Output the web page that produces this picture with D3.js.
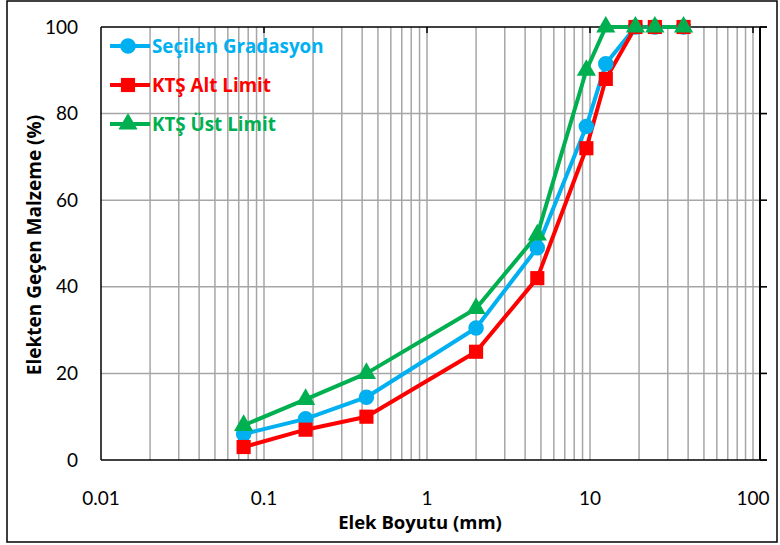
<!DOCTYPE html>
<html>
<head>
<meta charset="utf-8">
<script src="https://cdn.jsdelivr.net/npm/d3@7"></script>
<style>
  body { margin: 0; background: #fff; }
  svg { display: block; font-family: Lato, "Open Sans", sans-serif; }
  .bold { font-family: "Open Sans", Lato, sans-serif; font-weight: bold; }
</style>
</head>
<body>
<div id="chart"></div>
<script>
// sieve sizes (mm) and percent passing
let sieves = [0.075, 0.18, 0.425, 2, 4.75, 9.5, 12.5, 19, 25, 37.5];
let secilen = [6, 9.5, 14.5, 30.5, 49, 77, 91.5, 100, 100, 100];
let altLimit = [3, 7, 10, 25, 42, 72, 88, 100, 100, 100];
let ustLimit = [8, 14, 20, 35, 52, 90, 100, 100, 100, 100];
let seriesNames = ["Seçilen Gradasyon", "KTŞ Alt Limit", "KTŞ Üst Limit"];
let xTicks = [0.01, 0.1, 1, 10, 100];
let yTicks = [0, 20, 40, 60, 80, 100];

let W = 780, H = 545;
let margin = {top: 27, right: 27, bottom: 85, left: 101},
    width = 753 - margin.left,
    height = 460 - margin.top;

let svg = d3.select("#chart").append("svg")
    .attr("width", W)
    .attr("height", H);

// outer border
svg.append("rect")
    .attr("x", 7).attr("y", 1)
    .attr("width", W - 10).attr("height", H - 4)
    .attr("fill", "none").attr("stroke", "#000").attr("stroke-width", 1.5);

let g = svg.append("g")
    .attr("transform", "translate(" + margin.left + "," + margin.top + ")");

let x = d3.scaleLog().domain([0.01, 100]).range([0, width]);
let y = d3.scaleLinear().domain([0, 100]).range([height, 0]);
let xEnd = width + 7;   // secondary axis position
let gridEnd = width + 14;

// vertical grid (minor + major)
let minor = [];
[0.01, 0.1, 1, 10].forEach(d => { for (let k = 1; k <= 9; k++) minor.push(d * k); });
minor.push(100);
g.selectAll(".vgrid").data(minor.filter(d => d > 0.01)).enter()
    .append("line")
    .attr("x1", d => x(d)).attr("x2", d => x(d))
    .attr("y1", 0).attr("y2", height)
    .attr("stroke", "#A6A6A6").attr("stroke-width", 1.5);

// horizontal grid
g.selectAll(".hgrid").data(yTicks.filter(d => d > 0 && d < 100)).enter()
    .append("line")
    .attr("x1", 0).attr("x2", gridEnd)
    .attr("y1", d => y(d)).attr("y2", d => y(d))
    .attr("stroke", "#A6A6A6").attr("stroke-width", 1.5);

// axes
let axisColor = "#000";
g.append("line").attr("x1", 0).attr("x2", gridEnd).attr("y1", height).attr("y2", height)
    .attr("stroke", axisColor).attr("stroke-width", 1.5);
g.append("line").attr("x1", 0).attr("x2", gridEnd).attr("y1", 0).attr("y2", 0)
    .attr("stroke", axisColor).attr("stroke-width", 1.5);
g.append("line").attr("x1", 0).attr("x2", 0).attr("y1", 0).attr("y2", height)
    .attr("stroke", axisColor).attr("stroke-width", 1.5);
g.append("line").attr("x1", xEnd).attr("x2", xEnd).attr("y1", 0).attr("y2", height)
    .attr("stroke", axisColor).attr("stroke-width", 2);

// top decade ticks
g.selectAll(".ttick").data(xTicks.slice(1)).enter()
    .append("line")
    .attr("x1", d => x(d)).attr("x2", d => x(d))
    .attr("y1", 0).attr("y2", 6)
    .attr("stroke", axisColor).attr("stroke-width", 1.5);

// right ticks
g.selectAll(".rtick").data(yTicks).enter()
    .append("line")
    .attr("x1", xEnd).attr("x2", gridEnd)
    .attr("y1", d => y(d)).attr("y2", d => y(d))
    .attr("stroke", axisColor).attr("stroke-width", 1.5);

// tick labels
g.selectAll(".ylab").data(yTicks).enter()
    .append("text")
    .attr("x", -23).attr("y", d => y(d))
    .attr("dy", "0.35em")
    .attr("text-anchor", "end")
    .style("font-size", "19px")
    .text(d => d);

g.selectAll(".xlab").data(xTicks).enter()
    .append("text")
    .attr("x", d => x(d)).attr("y", height + 38)
    .attr("dy", "0.35em")
    .attr("text-anchor", "middle")
    .style("font-size", "19px")
    .text(d => d);

// axis titles
svg.append("text")
    .attr("class", "bold")
    .attr("x", 420).attr("y", 529)
    .attr("text-anchor", "middle")
    .style("font-size", "18.5px")
    .text("Elek Boyutu (mm)");

svg.append("text")
    .attr("class", "bold")
    .attr("transform", "translate(41,245) rotate(-90)")
    .attr("text-anchor", "middle")
    .style("font-size", "19px")
    .text("Elekten Geçen Malzeme (%)");

// series
let series = [
    {name: seriesNames[0], values: secilen, color: "#00B0F0", shape: d3.symbolCircle, size: 190},
    {name: seriesNames[1], values: altLimit, color: "#FF0000", shape: d3.symbolSquare, size: 200},
    {name: seriesNames[2], values: ustLimit, color: "#00B050", shape: d3.symbolTriangle, size: 160}
];

let line = d3.line()
    .x(d => x(d[0]))
    .y(d => y(d[1]));

series.forEach(s => {
    let pts = sieves.map((d, i) => [d, s.values[i]]);
    g.append("path")
        .datum(pts)
        .attr("fill", "none")
        .attr("stroke", s.color)
        .attr("stroke-width", 4)
        .attr("stroke-linejoin", "round")
        .attr("d", line);
});
series.forEach(s => {
    let pts = sieves.map((d, i) => [d, s.values[i]]);
    g.selectAll(null).data(pts).enter()
        .append("path")
        .attr("transform", d => "translate(" + x(d[0]) + "," + y(d[1]) + ")")
        .attr("d", d3.symbol().type(s.shape).size(s.size))
        .attr("fill", s.color);
});

// legend
let legend = svg.append("g").attr("transform", "translate(110,46)");
series.forEach((s, i) => {
    let row = legend.append("g").attr("transform", "translate(0," + (i * 39) + ")");
    row.append("line").attr("x1", 0).attr("x2", 40).attr("y1", 0).attr("y2", 0)
        .attr("stroke", s.color).attr("stroke-width", 4);
    row.append("path").attr("transform", "translate(18,0)")
        .attr("d", d3.symbol().type(s.shape).size(s.size)).attr("fill", s.color);
    row.append("text").attr("class", "bold").attr("x", 42).attr("y", 0).attr("dy", "0.35em")
        .style("font-size", "18.8px")
        .attr("fill", s.color)
        .text(s.name);
});
</script>
</body>
</html>
